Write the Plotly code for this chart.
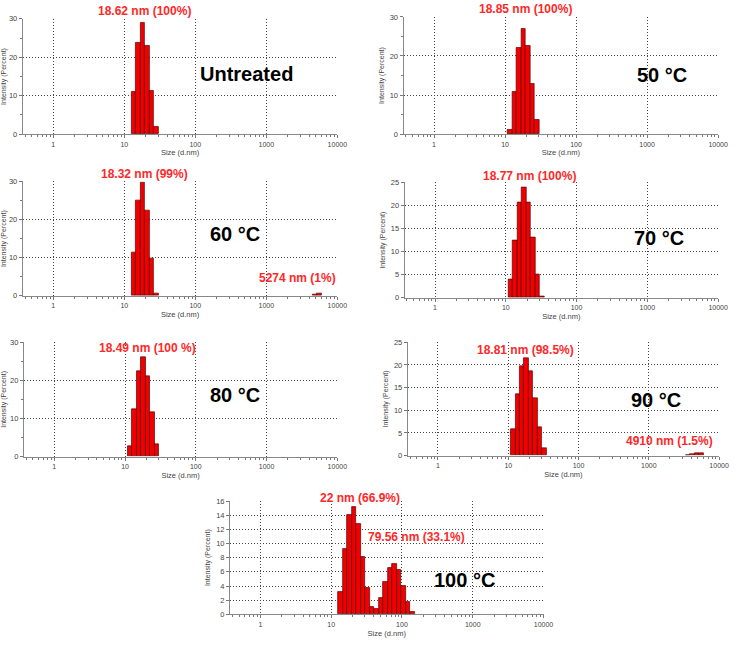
import numpy as np
import plotly.graph_objects as go

W, H = 739, 645

# ---------------- data (size classes in nm, intensity in %) ----------------
sizes_untreated = [13.54, 15.69, 18.17, 21.04, 24.36, 28.21]
int_untreated = [11.0, 23.7, 29.0, 23.0, 11.3, 1.8]

sizes_50 = [11.70, 13.54, 15.69, 18.17, 21.04, 24.36, 28.21]
int_50 = [1.2, 10.8, 22.0, 27.0, 22.6, 12.9, 3.7]

sizes_60 = [13.54, 15.69, 18.17, 21.04, 24.36, 28.21, 4801, 5560]
int_60 = [11.4, 25.0, 29.8, 22.3, 9.7, 0.6, 0.4, 0.7]

sizes_70 = [11.70, 13.54, 15.69, 18.17, 21.04, 24.36, 28.21, 32.67]
int_70 = [3.9, 12.4, 20.7, 24.0, 20.7, 13.0, 5.0, 0.4]

sizes_80 = [11.70, 13.54, 15.69, 18.17, 21.04, 24.36, 28.21]
int_80 = [2.7, 12.5, 22.5, 26.2, 21.2, 11.6, 3.2]

sizes_90 = [11.70, 13.54, 15.69, 18.17, 21.04, 24.36, 28.21, 32.67, 3580, 4145, 4801, 5560]
int_90 = [5.8, 13.5, 19.7, 21.5, 18.7, 12.7, 6.2, 1.7, 0.1, 0.3, 0.5, 0.6]

sizes_100 = [13.54, 15.69, 18.17, 21.04, 24.36, 28.21, 32.67, 37.84, 43.82, 50.75,
             58.77, 68.06, 78.82, 91.28, 105.7, 122.4, 141.8]
int_100 = [3.1, 9.3, 14.0, 15.2, 12.7, 8.1, 3.7, 1.1, 0.7, 2.3,
           4.6, 6.6, 7.1, 6.2, 4.0, 1.8, 0.3]

x_tickvals = [1, 10, 100, 1000, 10000]
x_ticktext = ["1", "10", "100", "1000", "10000"]
size_class_ratio = 1.158  # ratio between successive size classes

panel_titles = ["Untreated", "50 °C", "60 °C", "70 °C", "80 °C", "90 °C", "100 °C"]
peak_labels = [
    ["18.62 nm (100%)"],
    ["18.85 nm (100%)"],
    ["18.32 nm (99%)", "5274 nm (1%)"],
    ["18.77 nm (100%)"],
    ["18.49 nm (100 %)"],
    ["18.81 nm (98.5%)", "4910 nm (1.5%)"],
    ["22 nm (66.9%)", "79.56 nm (33.1%)"],
]
y_max = [30, 30, 30, 25, 30, 25, 16]
y_dtick = [10, 10, 10, 5, 10, 5, 2]

series = [
    (sizes_untreated, int_untreated),
    (sizes_50, int_50),
    (sizes_60, int_60),
    (sizes_70, int_70),
    (sizes_80, int_80),
    (sizes_90, int_90),
    (sizes_100, int_100),
]

# ---------------- layout geometry (pixels) ----------------
# (pixel of x=1, pixel of x=10000, top, bottom)
boxes = [
    (54, 342, 15, 132),
    (440, 728, 13, 132),
    (54, 342, 180, 296),
    (441, 728, 181, 298),
    (55, 342, 343, 459),
    (444, 729, 343, 458),
    (264, 551, 504, 619),
]
XMIN = -0.43  # log10 of left axis limit

peak_pos = [
    [(146, 7)],
    [(533, 5)],
    [(146, 172), (302, 278)],
    [(537, 174)],
    [(150, 349)],
    [(533, 351), (679, 443)],
    [(365, 501), (422, 541)],
]
title_pos = [(250, 71), (671, 72), (238, 233), (668, 237), (238, 397), (665, 402), (471, 584)]

FONT = "Liberation Sans, Arial, sans-serif"
BAR_FILL = "rgb(240,0,0)"
BAR_EDGE = "rgb(90,0,0)"
RED_TXT = "rgb(255,40,40)"
GRID = "rgb(70,70,70)"
DOT = "1px,2px"

major_log = np.log10(x_tickvals)
minor_log = [np.log10(m * 10.0 ** d) for d in range(-1, 4) for m in range(2, 10)]
minor_log = [v for v in minor_log if v > XMIN]

fig = go.Figure()
layout = dict(
    width=W, height=H,
    margin=dict(l=0, r=0, t=0, b=0),
    paper_bgcolor="white", plot_bgcolor="white",
    showlegend=False,
    font=dict(family=FONT, size=8, color="#444"),
    bargap=0,
)
annotations = []

bin_w = np.log10(size_class_ratio)

for i, ((sz, val), (p1, p4, top, bot)) in enumerate(zip(series, boxes)):
    k = "" if i == 0 else str(i + 1)
    dec = (p4 - p1) / 4.0
    left = p1 + XMIN * dec
    fig.add_trace(go.Bar(
        x=np.log10(sz), y=val, width=[bin_w] * len(sz),
        xaxis="x" + k, yaxis="y" + k,
        customdata=sz, hovertemplate="%{customdata} nm: %{y}%<extra></extra>",
        marker=dict(color=BAR_FILL, line=dict(color=BAR_EDGE, width=0.7)),
    ))
    layout["xaxis" + k] = dict(
        type="linear", range=[XMIN, 4.0005],
        domain=[left / W, p4 / W], anchor="y" + k,
        tickmode="array", tickvals=major_log, ticktext=x_ticktext,
        ticks="outside", ticklen=3, tickcolor="#777",
        minor=dict(tickmode="array", tickvals=minor_log, ticks="outside", ticklen=2,
                   tickcolor="#777", showgrid=False),
        showgrid=True, gridcolor=GRID, griddash=DOT, gridwidth=1,
        showline=True, linecolor="#888", linewidth=1,
        tickfont=dict(size=7, color="#444"),
        title=dict(text="Size (d.nm)", font=dict(size=7.5, color="#444"), standoff=3),
        zeroline=False, fixedrange=True,
    )
    ydict = dict(
        range=[0, y_max[i] * 1.0005], domain=[1 - bot / H, 1 - top / H], anchor="x" + k,
        dtick=y_dtick[i], tick0=0,
        ticks="outside", ticklen=3, tickcolor="#777",
        showgrid=True, gridcolor=GRID, griddash=DOT, gridwidth=1,
        showline=True, linecolor="#888", linewidth=1,
        tickfont=dict(size=7.5, color="#444"),
        title=dict(text="Intensity (Percent)", font=dict(size=7, color="#444"), standoff=4),
        zeroline=False, fixedrange=True,
    )
    if y_dtick[i] == 10:
        ydict["minor"] = dict(ticks="outside", ticklen=2, tickcolor="#777", dtick=5, showgrid=False)
    layout["yaxis" + k] = ydict

    for txt, (px, py) in zip(peak_labels[i], peak_pos[i]):
        annotations.append(dict(
            text="<b>" + txt + "</b>", x=px / W, y=1 - py / H, xref="paper", yref="paper",
            xanchor="center", yanchor="middle", showarrow=False,
            font=dict(size=12, color=RED_TXT, family=FONT),
        ))
    tx, ty = title_pos[i]
    annotations.append(dict(
        text="<b>" + panel_titles[i] + "</b>", x=tx / W, y=1 - ty / H, xref="paper", yref="paper",
        xanchor="center", yanchor="middle", showarrow=False,
        font=dict(size=20, color="black", family=FONT),
    ))

layout["annotations"] = annotations
fig.update_layout(**layout)
fig.write_html(
    "out.html",
    config={"displayModeBar": False},
    post_script="document.body.style.margin='0';document.body.style.overflow='hidden';",
)
